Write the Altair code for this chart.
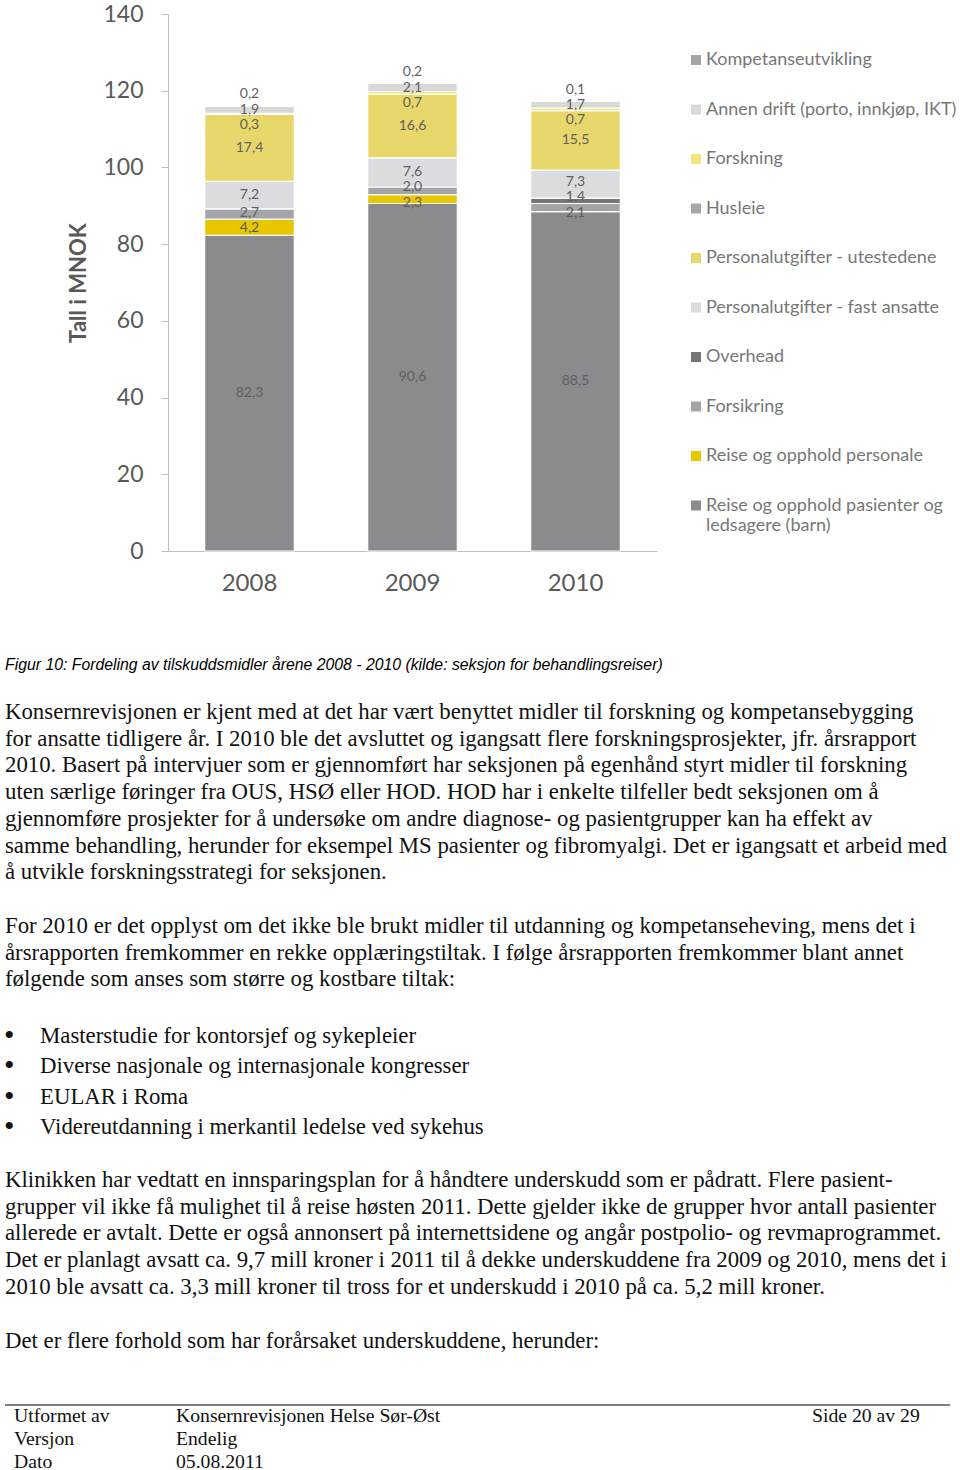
import altair as alt
import pandas as pd

# ---------------- data ----------------
years = ["2008", "2009", "2010"]

# stack order, bottom to top
categories = [
    "Reise og opphold pasienter og ledsagere (barn)",
    "Reise og opphold personale",
    "Forsikring",
    "Overhead",
    "Personalutgifter - fast ansatte",
    "Personalutgifter - utestedene",
    "Husleie",
    "Forskning",
    "Annen drift (porto, innkjøp, IKT)",
    "Kompetanseutvikling",
]
reise_pasienter = [82.3, 90.6, 88.5]
reise_personale = [4.2, 2.3, 0.0]
forsikring = [2.7, 2.0, 2.1]
overhead = [0.0, 0.0, 1.4]
pers_fast = [7.2, 7.6, 7.3]
pers_ute = [17.4, 16.6, 15.5]
husleie = [0.0, 0.0, 0.0]
forskning = [0.3, 0.7, 0.7]
annen_drift = [1.9, 2.1, 1.7]
kompetanse = [0.2, 0.2, 0.1]
series = [reise_pasienter, reise_personale, forsikring, overhead, pers_fast,
          pers_ute, husleie, forskning, annen_drift, kompetanse]

colors = ["#8c8a8f", "#e6c700", "#a5a4a8", "#767478", "#dcdbe0",
          "#e8d76a", "#a6a6a6", "#f3e57f", "#d8d8d8", "#a5a5a5"]

y_ticks = [0, 20, 40, 60, 80, 100, 120, 140]

caption = "Figur 10: Fordeling av tilskuddsmidler årene 2008 - 2010 (kilde: seksjon for behandlingsreiser)"
para1 = [
    "Konsernrevisjonen er kjent med at det har vært benyttet midler til forskning og kompetansebygging",
    "for ansatte tidligere år. I 2010 ble det avsluttet og igangsatt flere forskningsprosjekter, jfr. årsrapport",
    "2010. Basert på intervjuer som er gjennomført har seksjonen på egenhånd styrt midler til forskning",
    "uten særlige føringer fra OUS, HSØ eller HOD. HOD har i enkelte tilfeller bedt seksjonen om å",
    "gjennomføre prosjekter for å undersøke om andre diagnose- og pasientgrupper kan ha effekt av",
    "samme behandling, herunder for eksempel MS pasienter og fibromyalgi. Det er igangsatt et arbeid med",
    "å utvikle forskningsstrategi for seksjonen.",
]
para2 = [
    "For 2010 er det opplyst om det ikke ble brukt midler til utdanning og kompetanseheving, mens det i",
    "årsrapporten fremkommer en rekke opplæringstiltak. I følge årsrapporten fremkommer blant annet",
    "følgende som anses som større og kostbare tiltak:",
]
bullets = [
    "Masterstudie for kontorsjef og sykepleier",
    "Diverse nasjonale og internasjonale kongresser",
    "EULAR i Roma",
    "Videreutdanning i merkantil ledelse ved sykehus",
]
para3 = [
    "Klinikken har vedtatt en innsparingsplan for å håndtere underskudd som er pådratt. Flere pasient-",
    "grupper vil ikke få mulighet til å reise høsten 2011. Dette gjelder ikke de grupper hvor antall pasienter",
    "allerede er avtalt. Dette er også annonsert på internettsidene og angår postpolio- og revmaprogrammet.",
    "Det er planlagt avsatt ca. 9,7 mill kroner i 2011 til å dekke underskuddene fra 2009 og 2010, mens det i",
    "2010 ble avsatt ca. 3,3 mill kroner til tross for et underskudd i 2010 på ca. 5,2 mill kroner.",
]
para4 = ["Det er flere forhold som har forårsaket underskuddene, herunder:"]
footer_col1 = ["Utformet av", "Versjon", "Dato"]
footer_col2 = ["Konsernrevisjonen Helse Sør-Øst", "Endelig", "05.08.2011"]
footer_col3 = ["Side 20 av 29"]

# ---------------- stacking + label placement ----------------
GAP = 4.0  # minimum label separation in data units


def relax(mids, gap):
    pos = list(mids)
    for _ in range(300):
        moved = False
        for i in range(len(pos) - 1):
            d = pos[i + 1] - pos[i]
            if d < gap - 1e-9:
                s = (gap - d) / 2
                pos[i] -= s
                pos[i + 1] += s
                moved = True
        if not moved:
            break
    return pos


rows = []
for j, yr in enumerate(years):
    base = 0.0
    seg = []
    for k, cat in enumerate(categories):
        v = series[k][j]
        if v > 0:
            seg.append(dict(year=yr, cat=cat, value=v, y0=base, y1=base + v,
                            mid=base + v / 2,
                            label=f"{v:.1f}".replace(".", ",")))
        base += v
    lab = relax([s["mid"] for s in seg], GAP)
    for s, ly in zip(seg, lab):
        s["ly"] = ly
        rows.append(s)
df = pd.DataFrame(rows)

legend_order = list(reversed(categories))
legend_colors = list(reversed(colors))

# ---------------- page geometry ----------------
OX, OY = 168, 14          # plot origin on the page
PW, PH = 489, 537         # plot area
PAGE_W, PAGE_H = 960, 1470


def px(x):
    return x - OX


def py(y):
    return y - OY


TEXT_COLOR = "#595959"

x_enc = alt.X("year:N", sort=years,
              scale=alt.Scale(paddingInner=0.45, paddingOuter=0.225),
              axis=alt.Axis(title=None, labelAngle=0, ticks=False,
                            domainColor="#bfbfbf", labelFont="Lato",
                            labelFontSize=24, labelColor=TEXT_COLOR,
                            labelPadding=20))

bars = alt.Chart(df).mark_bar(stroke="white", strokeWidth=1.2).encode(
    x=x_enc,
    y=alt.Y("y0:Q", scale=alt.Scale(domain=[0, 140], nice=False),
            axis=alt.Axis(values=y_ticks, grid=False, tickSize=7,
                          tickColor="#bfbfbf", domainColor="#bfbfbf",
                          labelFont="Lato", labelFontSize=23,
                          labelColor=TEXT_COLOR, labelPadding=18,
                          title="Tall i MNOK", titleFont="Lato",
                          titleFontSize=22, titleFontWeight="bold",
                          titleColor=TEXT_COLOR, titlePadding=12)),
    y2="y1:Q",
    color=alt.Color("cat:N",
                    scale=alt.Scale(domain=legend_order, range=legend_colors),
                    legend=alt.Legend(
                        orient="none", legendX=519, legendY=37, title=None,
                        padding=0, symbolType="square", symbolSize=100,
                        symbolStrokeWidth=0, symbolOpacity=1,
                        labelFont="Lato", labelFontSize=18,
                        labelColor="#777777", labelLimit=400, labelOffset=1,
                        rowPadding=31.5,
                        labelExpr=("datum.label == 'Reise og opphold pasienter og ledsagere (barn)'"
                                   " ? ['Reise og opphold pasienter og', 'ledsagere (barn)']"
                                   " : datum.label"))),
)

labels = alt.Chart(df).mark_text(font="Lato", fontSize=14,
                                 color="#5f5f5f", baseline="middle").encode(
    x=alt.X("year:N", sort=years),
    y=alt.Y("ly:Q"),
    text="label:N",
)

one = pd.DataFrame({"k": [0]})


def text_block(lines, x, baseline_y, size, lh, font="Liberation Serif",
               style="normal", color="#111111"):
    top = baseline_y - round(0.79 * size)
    return alt.Chart(one).mark_text(
        text=lines, align="left", baseline="top", font=font, fontSize=size,
        fontStyle=style, lineHeight=lh, color=color,
    ).encode(x=alt.value(px(x)), y=alt.value(py(top)))


BODY = 22.8
LH = 26.7
texts = [
    text_block([caption], 5, 670, 15.8, 18, font="Liberation Sans",
               style="italic", color="#000000"),
    text_block(para1, 5, 719, BODY, LH),
    text_block(para2, 5, 933, BODY, LH),
    text_block(["•"] * len(bullets), 4, 1045, 30, 30.3),
    text_block(bullets, 40, 1043, BODY, 30.3),
    text_block(para3, 5, 1187, BODY, LH),
    text_block(para4, 5, 1348, BODY, LH),
    text_block(footer_col1, 14, 1422, 19.7, 23),
    text_block(footer_col2, 176, 1422, 19.7, 23),
    text_block(footer_col3, 812, 1422, 19.7, 23),
]

rule = alt.Chart(one).mark_rule(color="#000000", strokeWidth=1).encode(
    x=alt.value(px(5)), x2=alt.value(px(950)), y=alt.value(py(1405)))

chart = alt.layer(bars, labels, rule, *texts).properties(
    width=PW, height=PH,
    background="white",
    autosize=alt.AutoSizeParams(type="none"),
    padding={"left": OX, "top": OY, "right": PAGE_W - OX - PW,
             "bottom": PAGE_H - OY - PH},
).configure_view(stroke=None)

chart.save("out.html", embed_options={"renderer": "svg", "actions": False})
